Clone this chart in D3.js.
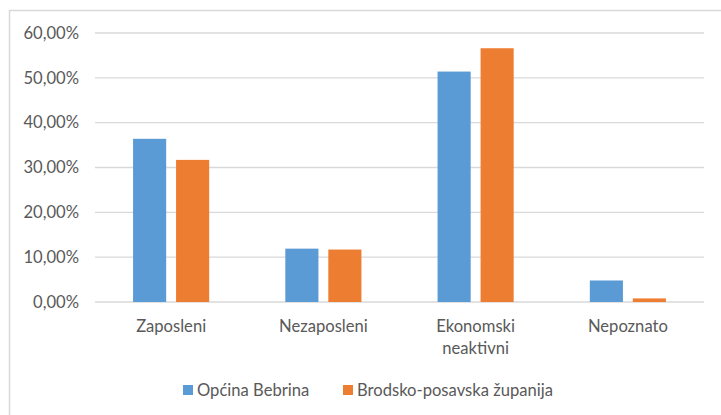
<!DOCTYPE html>
<html lang="hr">
<head>
<meta charset="utf-8">
<title>Stanovništvo prema aktivnosti</title>
<script src="https://d3js.org/d3.v7.min.js"></script>
<style>
body { margin: 0; background: #fff; }
text { font-family: Lato, "Open Sans", sans-serif; fill: #595959; }
</style>
</head>
<body>
<div id="chart"></div>
<script>
// data
var categories = ["Zaposleni", "Nezaposleni", "Ekonomski neaktivni", "Nepoznato"];
var seriesNames = ["Općina Bebrina", "Brodsko-posavska županija"];
var bebrina = [36.4, 11.9, 51.4, 4.8];
var zupanija = [31.7, 11.7, 56.6, 0.8];
var yTicks = [0, 10, 20, 30, 40, 50, 60];
var colors = ["#5B9BD5", "#ED7D31"];

var W = 721, H = 415;
var margin = {top: 33, right: 17, bottom: 113, left: 95};
var width = W - margin.left - margin.right,
    height = H - margin.top - margin.bottom;
var fontSize = "16.6px";

var svg = d3.select("#chart").append("svg")
  .attr("width", W).attr("height", H);

// chart frame (runs off the right and bottom edge)
svg.append("rect")
  .attr("x", 9.5).attr("y", 10.5)
  .attr("width", 730).attr("height", 420)
  .attr("fill", "none").attr("stroke", "#d9d9d9").attr("stroke-width", 1.5);

var g = svg.append("g")
  .attr("transform", "translate(" + margin.left + "," + margin.top + ")");

var x = d3.scaleBand().domain(categories).range([0, width]);
var x1 = d3.scaleBand().domain(seriesNames).range([x.bandwidth() * 0.25, x.bandwidth() * 0.75]).paddingInner(0.23);
var y = d3.scaleLinear().domain([0, 60]).range([height, 0]);

// gridlines
g.selectAll(".grid").data(yTicks).enter().append("line")
  .attr("x1", 0).attr("x2", width)
  .attr("y1", function(d) { return y(d); })
  .attr("y2", function(d) { return y(d); })
  .attr("stroke", "#d9d9d9").attr("stroke-width", 1.3);

// y axis labels
var yAxis = g.append("g").call(d3.axisLeft(y).tickValues(yTicks).tickSize(0).tickPadding(16)
  .tickFormat(function(d) { return d3.format(".2f")(d).replace(".", ",") + "%"; }));
yAxis.select(".domain").remove();
yAxis.selectAll("text").style("font-size", fontSize).attr("fill", "#595959");

// bars
var rows = categories.map(function(c, i) { return {cat: c, vals: [bebrina[i], zupanija[i]]}; });
var groups = g.selectAll(".cat").data(rows).enter().append("g")
  .attr("transform", function(d) { return "translate(" + x(d.cat) + ",0)"; });
groups.selectAll("rect").data(function(d) { return d.vals; }).enter().append("rect")
  .attr("x", function(d, i) { return x1(seriesNames[i]); })
  .attr("width", x1.bandwidth())
  .attr("y", function(d) { return y(d); })
  .attr("height", function(d) { return height - y(d); })
  .attr("fill", function(d, i) { return colors[i]; });

// category labels
var xAxis = g.append("g").attr("transform", "translate(0," + height + ")")
  .call(d3.axisBottom(x).tickSize(0).tickPadding(0));
xAxis.select(".domain").remove();
xAxis.selectAll("text").remove();
xAxis.selectAll(".tick").each(function(d) {
  var words = d.split(" ");
  var t = d3.select(this).append("text").attr("text-anchor", "middle").style("font-size", fontSize);
  words.forEach(function(w, i) {
    t.append("tspan").attr("x", 0).attr("y", 30 + i * 22).text(w);
  });
});

// legend
var legend = svg.append("g").attr("transform", "translate(0,390)");
var legX = [183, 343];
seriesNames.forEach(function(s, i) {
  legend.append("rect").attr("x", legX[i]).attr("y", -5).attr("width", 10).attr("height", 10).attr("fill", colors[i]);
  legend.append("text").attr("x", legX[i] + 14).attr("y", 6).style("font-size", fontSize).text(s);
});
</script>
</body>
</html>
